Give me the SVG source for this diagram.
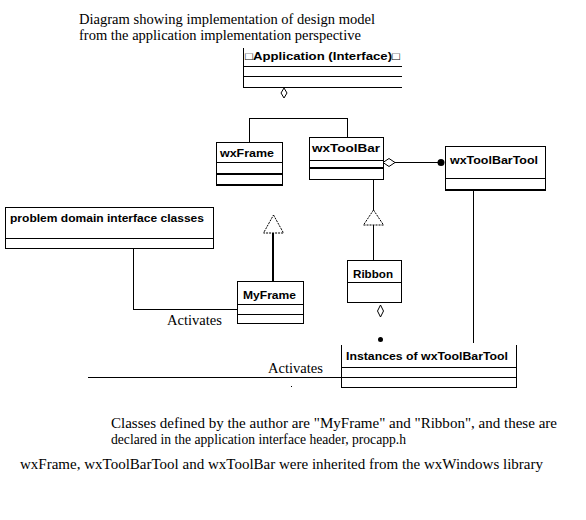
<svg xmlns="http://www.w3.org/2000/svg" width="586" height="520" viewBox="0 0 586 520">
<style>
.bx{fill:none;stroke:#000;stroke-width:1;shape-rendering:crispEdges}
.th{fill:none;stroke:#000;stroke-width:2;shape-rendering:crispEdges}
.ln{fill:none;stroke:#000;stroke-width:1;shape-rendering:crispEdges}
.cn{font-family:"Liberation Sans",Arial,sans-serif;font-weight:bold;font-size:11px;fill:#000}
.tx{font-family:"Liberation Serif","Times New Roman",serif;font-size:14.5px;fill:#000}
</style>
<rect width="586" height="520" fill="#fff"/>
<g id="title">
<text class="tx" x="79" y="24" textLength="296" lengthAdjust="spacingAndGlyphs">Diagram showing implementation of design model</text>
<text class="tx" x="79" y="40">from the application implementation perspective</text>
</g>
<g id="connectors">
<path class="ln" d="M249.5,142 V118.5 H347.5 V137"/>
<path class="ln" d="M395,162.5 H438"/>
<path d="M383,162.5 L389,158.5 L395,162.5 L389,166.5 Z" fill="#fff" stroke="#000" stroke-width="1"/>
<circle cx="441" cy="162.5" r="3.5" fill="#000"/>
<path class="ln" d="M373.5,180 V210"/>
<path d="M373.5,210 L383.5,225 L363.5,225 Z" fill="#fff" stroke="#000" stroke-width="1" stroke-dasharray="2,1"/>
<path class="ln" d="M373.5,225 V260"/>
<path class="th" d="M273,233 V281"/>
<path d="M273.5,215 L283.5,233 L263.5,233 Z" fill="#fff" stroke="#000" stroke-width="1" stroke-dasharray="2,1"/>
<path class="ln" d="M133.5,249 V309.5 H237"/>
<path class="ln" d="M473.5,190 V343"/>
<path class="ln" d="M88,377.5 H341"/>
<path d="M380.5,305 L383.5,311 L380.5,317 L377.5,311 Z" fill="#fff" stroke="#000" stroke-width="1"/>
<circle cx="380.5" cy="339.5" r="2.5" fill="#000"/>
<path d="M284,88 L287,93 L284,98 L281,93 Z" fill="#fff" stroke="#000" stroke-width="1"/>
<text class="tx" x="167" y="325" textLength="55" lengthAdjust="spacingAndGlyphs">Activates</text>
<text class="tx" x="268" y="373" textLength="55" lengthAdjust="spacingAndGlyphs">Activates</text>
<rect x="291" y="386" width="1" height="1" fill="#000"/>
</g>
<g id="application">
<path class="bx" d="M243.5,48 V87.5 H402 M243.5,66.5 H402 M243.5,76.5 H402"/>
<text class="cn" x="245" y="60" textLength="155" lengthAdjust="spacingAndGlyphs">□Application (Interface)□</text>
</g>
<g id="wxFrame">
<rect class="bx" x="216.5" y="142.5" width="66" height="42"/>
<path class="bx" d="M216.5,162.5 H282.5"/>
<path class="th" d="M216,174 H283 M216,185 H283"/>
<text class="cn" x="220" y="157" textLength="54" lengthAdjust="spacingAndGlyphs">wxFrame</text>
</g>
<g id="wxToolBar">
<rect class="bx" x="309.5" y="137.5" width="74" height="42"/>
<path class="bx" d="M309.5,160.5 H383.5"/>
<path class="th" d="M309,168 H384"/>
<text class="cn" x="312" y="152" textLength="68" lengthAdjust="spacingAndGlyphs">wxToolBar</text>
</g>
<g id="wxToolBarTool">
<rect class="bx" x="445.5" y="146.5" width="100" height="43"/>
<path class="bx" d="M445.5,178.5 H545.5"/>
<path class="th" d="M445,190 H546"/>
<text class="cn" x="450" y="164" textLength="88" lengthAdjust="spacingAndGlyphs">wxToolBarTool</text>
</g>
<g id="problemDomain">
<rect class="bx" x="5.5" y="207.5" width="208" height="41"/>
<path class="bx" d="M5.5,238.5 H213.5"/>
<text class="cn" x="10" y="222" textLength="194" lengthAdjust="spacingAndGlyphs">problem domain interface classes</text>
</g>
<g id="MyFrame">
<rect class="bx" x="237.5" y="281.5" width="66" height="42"/>
<path class="bx" d="M237.5,304.5 H303.5 M237.5,314.5 H303.5"/>
<text class="cn" x="243" y="299" textLength="53" lengthAdjust="spacingAndGlyphs">MyFrame</text>
</g>
<g id="Ribbon">
<rect class="bx" x="347.5" y="260.5" width="54" height="42"/>
<path class="bx" d="M347.5,282.5 H401.5"/>
<text class="cn" x="353" y="278" textLength="40" lengthAdjust="spacingAndGlyphs">Ribbon</text>
</g>
<g id="instances">
<path class="bx" d="M341.5,345 V387.5 H516.5 V345 M341.5,367.5 H516.5 M341.5,377.5 H516.5"/>
<text class="cn" x="346" y="360" textLength="162" lengthAdjust="spacingAndGlyphs">Instances of wxToolBarTool</text>
</g>
<g id="notes">
<text class="tx" x="111" y="428" textLength="446" lengthAdjust="spacingAndGlyphs">Classes defined by the author are "MyFrame" and "Ribbon", and these are</text>
<text class="tx" x="111" y="444" textLength="295" lengthAdjust="spacingAndGlyphs">declared in the application interface header, procapp.h</text>
<text class="tx" x="20" y="469" textLength="523" lengthAdjust="spacingAndGlyphs">wxFrame, wxToolBarTool and wxToolBar were inherited from the wxWindows library</text>
</g>
</svg>
